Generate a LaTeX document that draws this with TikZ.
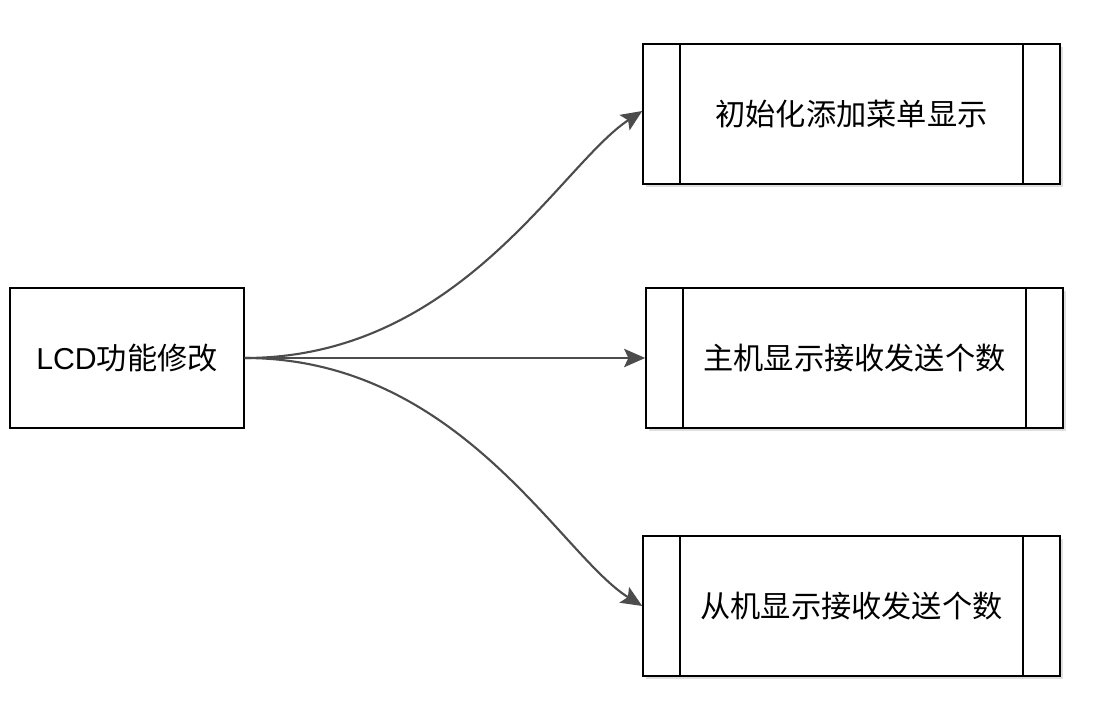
\documentclass[tikz,border=0pt]{standalone}
\usepackage{fontspec}
\setmainfont{Liberation Sans}
\newfontfamily\cjk{Noto Sans CJK SC}
\usepackage{tikz}
\usetikzlibrary{positioning}
\usetikzlibrary{arrows.meta,shadows}

\tikzset{
	box/.style = {draw, line width=1pt, minimum height=3.5cm, inner sep=0pt,
	              font=\fontsize{21.5}{25}\selectfont},
	proc/.style = {box, minimum width=10.425cm, fill=white,
	               drop shadow={opacity=0.25, shadow xshift=2pt, shadow yshift=-2pt},
	               path picture={
	                 \draw[line width=1pt]
	                   ([xshift=0.925cm]path picture bounding box.north west)
	                   -- ([xshift=0.925cm]path picture bounding box.south west);
	                 \draw[line width=1pt]
	                   ([xshift=-0.925cm]path picture bounding box.north east)
	                   -- ([xshift=-0.925cm]path picture bounding box.south east);
	               }},
	conn/.style = {draw=black!70, line width=1.5pt,
	               -{Stealth[length=15pt, width=13pt, inset=3pt]}},
}

\begin{document}
\begin{tikzpicture}[x=0.025cm, y=-0.025cm]
	
	% canvas, in pixels of the reference
	\useasboundingbox (0,0) rectangle (1094,725);
	
	% source
	\node[box, minimum width=5.85cm] (lcd) at (127,358) {LCD{\cjk 功能修改}};
	
	% targets
	\node[proc] (init)   at (851.5,114) {\cjk 初始化添加菜单显示};
	\node[proc] (master) at (854.5,358) {\cjk 主机显示接收发送个数};
	\node[proc] (slave)  at (851.5,606) {\cjk 从机显示接收发送个数};
	
	%%%%%%%%%%%%%%%%%%%%%%%%%%%%%%%%%%%%%%%%%%%%%%%%%%%%%%%%%%%%%%
	% connectors
	\draw[conn] (lcd.east) .. controls (460,358) and (560,165) .. ([yshift=0.075cm]init.west);
	\draw[conn] (lcd.east) -- (master.west);
	\draw[conn] (lcd.east) .. controls (460,358) and (560,555) .. (slave.west);
	
\end{tikzpicture}
\end{document}
